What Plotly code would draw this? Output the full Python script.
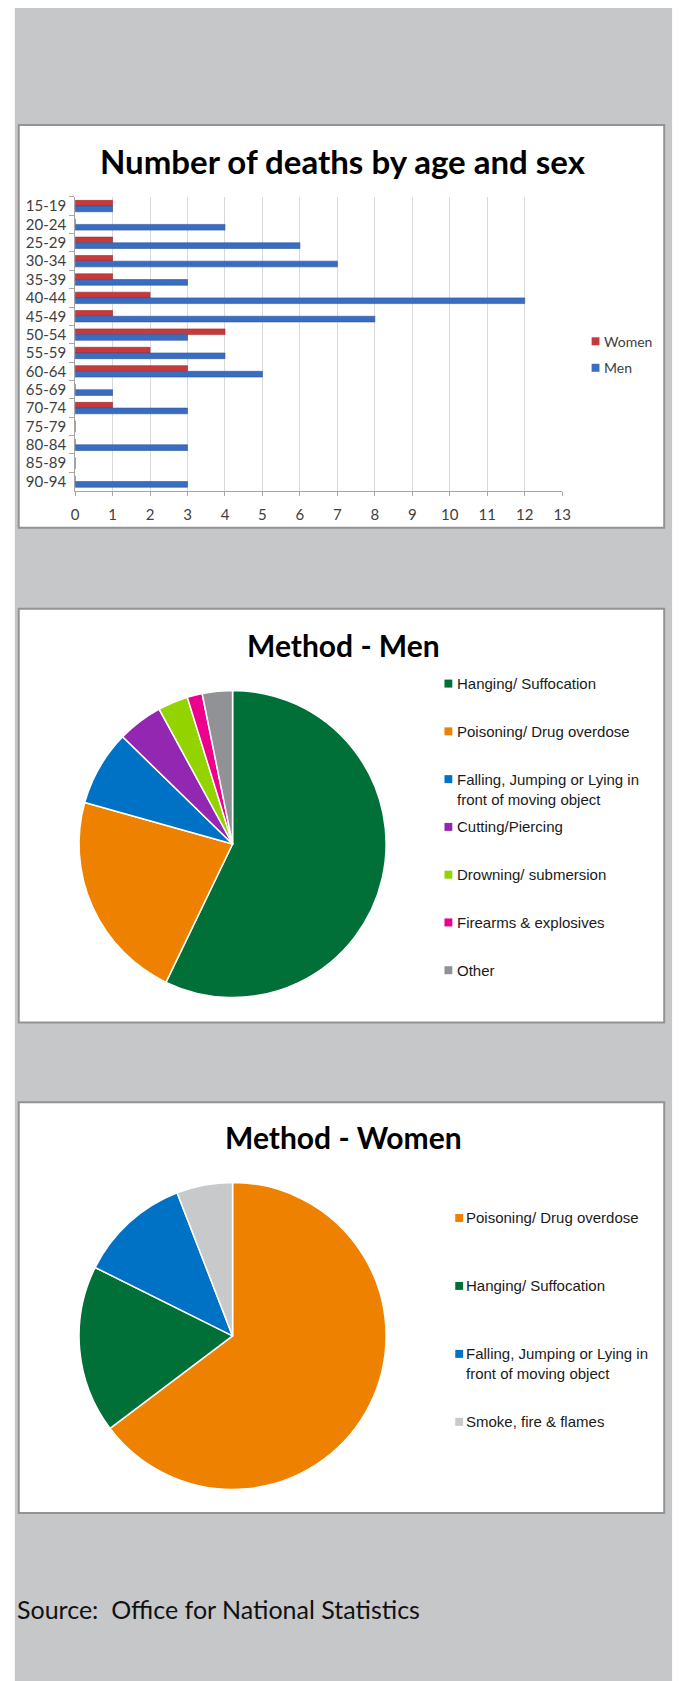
import plotly.graph_objects as go

W, H = 684, 1681

# ---------------- data ----------------
age_groups = ["15-19", "20-24", "25-29", "30-34", "35-39", "40-44", "45-49", "50-54",
              "55-59", "60-64", "65-69", "70-74", "75-79", "80-84", "85-89", "90-94"]
women_deaths = [1, 0, 1, 1, 1, 2, 1, 4, 2, 3, 0, 1, 0, 0, 0, 0]
men_deaths = [1, 4, 6, 7, 3, 12, 8, 3, 4, 5, 1, 3, 0, 3, 0, 3]
x_ticks = list(range(0, 14))

men_methods = ["Hanging/ Suffocation", "Poisoning/ Drug overdose",
               "Falling, Jumping or Lying in front of moving object",
               "Cutting/Piercing", "Drowning/ submersion",
               "Firearms & explosives", "Other"]
men_method_counts = [36, 14, 5, 3, 2, 1, 2]

women_methods = ["Poisoning/ Drug overdose", "Hanging/ Suffocation",
                 "Falling, Jumping or Lying in front of moving object",
                 "Smoke, fire & flames"]
women_method_counts = [11, 3, 2, 1]

source_text = "Source:  Office for National Statistics"

# ---------------- styles ----------------
RED = "#C8393C"
BLUE = "#3A6DC2"
method_colors = {
    "Hanging/ Suffocation": "#007038",
    "Poisoning/ Drug overdose": "#EE8200",
    "Falling, Jumping or Lying in front of moving object": "#0072C6",
    "Cutting/Piercing": "#9327B2",
    "Drowning/ submersion": "#92D300",
    "Firearms & explosives": "#EC008C",
    "Other": "#919296",
    "Smoke, fire & flames": "#C8C9CB",
}
wrap = {"Falling, Jumping or Lying in front of moving object":
        "Falling, Jumping or Lying in<br>front of moving object"}

BG_GRAY = "#C6C7C9"
BORDER = "#939393"
LEG_FONT = "Liberation Sans, Arial, sans-serif"
LEG_SIZE = 15


def px(x):
    return x / W


def py(y):
    return 1 - y / H


fig = go.Figure()

# ---------------- bar chart ----------------
fig.add_trace(go.Bar(y=age_groups, x=women_deaths, orientation="h", name="Women",
                     marker=dict(color=RED, line=dict(color="#9E2A2C", width=0.6)),
                     xaxis="x", yaxis="y", showlegend=False))
fig.add_trace(go.Bar(y=age_groups, x=men_deaths, orientation="h", name="Men",
                     marker=dict(color=BLUE, line=dict(color="#2C559A", width=0.6)),
                     xaxis="x", yaxis="y", showlegend=False))

# ---------------- pies ----------------
PIE_CX, PIE_R = 233, 156.5
men_cy, women_cy = 843.5, 1335.7

fig.add_trace(go.Pie(labels=men_methods, values=men_method_counts, sort=False,
                     direction="clockwise", rotation=0, textinfo="none",
                     marker=dict(colors=[method_colors[m] for m in men_methods],
                                 line=dict(color="#FFFFFF", width=1.5)),
                     domain=dict(x=[px(PIE_CX - PIE_R), px(PIE_CX + PIE_R)],
                                 y=[py(men_cy + PIE_R), py(men_cy - PIE_R)]),
                     showlegend=False, hoverinfo="label+value+percent"))
fig.add_trace(go.Pie(labels=women_methods, values=women_method_counts, sort=False,
                     direction="clockwise", rotation=0, textinfo="none",
                     marker=dict(colors=[method_colors[m] for m in women_methods],
                                 line=dict(color="#FFFFFF", width=1.5)),
                     domain=dict(x=[px(PIE_CX - PIE_R), px(PIE_CX + PIE_R)],
                                 y=[py(women_cy + PIE_R), py(women_cy - PIE_R)]),
                     showlegend=False, hoverinfo="label+value+percent"))

# ---------------- shapes (background, panels) ----------------
shapes = [
    dict(type="rect", xref="paper", yref="paper", x0=px(11), x1=px(681), y0=py(1681), y1=py(7),
         fillcolor=BG_GRAY, line=dict(width=0), layer="below"),
]
for (top, bottom) in [(124, 527), (608, 1022), (1102, 1513)]:
    shapes.append(dict(type="rect", xref="paper", yref="paper", x0=px(15), x1=px(673),
                       y0=py(bottom), y1=py(top), fillcolor="#FFFFFF",
                       line=dict(color=BORDER, width=2), layer="below"))

annotations = []

# titles
for text, cy, size in [("Number of deaths by age and sex", 160, 33),
                       ("Method - Men", 644, 30),
                       ("Method - Women", 1137, 30)]:
    annotations.append(dict(text=text, x=px(346), y=py(cy), xref="paper", yref="paper",
                            xanchor="center", yanchor="middle", showarrow=False,
                            font=dict(family="Lato", size=size, color="#000000",
                                      weight="bold")))

# bar legend
for i, (name, col) in enumerate([("Women", RED), ("Men", BLUE)]):
    cy = 340.5 + i * 26.5
    shapes.append(dict(type="rect", xref="paper", yref="paper", x0=px(599), x1=px(607),
                       y0=py(cy + 4), y1=py(cy - 4), fillcolor=col, line=dict(width=0)))
    annotations.append(dict(text=name, x=px(610), y=py(cy), xref="paper", yref="paper",
                            xanchor="left", yanchor="middle", showarrow=False,
                            font=dict(family="Lato", size=14, color="#404040")))


def pie_legend(labels, first_cy, step, sq_x, txt_x):
    for i, lab in enumerate(labels):
        cy = first_cy + i * step
        shapes.append(dict(type="rect", xref="paper", yref="paper", x0=px(sq_x - 4),
                           x1=px(sq_x + 4), y0=py(cy + 4), y1=py(cy - 4),
                           fillcolor=method_colors[lab], line=dict(width=0)))
        txt = wrap.get(lab, lab)
        nlines = txt.count("<br>") + 1
        annotations.append(dict(text=txt, x=px(txt_x), y=py(cy + (nlines - 1) * 10),
                                xref="paper", yref="paper", xanchor="left",
                                yanchor="middle", align="left", showarrow=False,
                                font=dict(family=LEG_FONT, size=LEG_SIZE, color="#1A1A1A")))


pie_legend(men_methods, 683, 47.8, 453, 460)
pie_legend(women_methods, 1217.7, 68, 464, 469)

# source
annotations.append(dict(text=source_text, x=px(11), y=py(1609), xref="paper", yref="paper",
                        xanchor="left", yanchor="middle", showarrow=False,
                        font=dict(family="Lato", size=25, color="#111111")))

AX_COL = "#A6A6A6"
fig.update_layout(
    width=W, height=H, autosize=False,
    margin=dict(l=0, r=0, t=0, b=0, pad=0),
    paper_bgcolor="#FFFFFF", plot_bgcolor="rgba(0,0,0,0)",
    barmode="group", bargap=0.38, bargroupgap=0,
    showlegend=False,
    xaxis=dict(domain=[px(72.5), px(569)], range=[0, 13], tickmode="array", tickvals=x_ticks,
               showgrid=True, gridcolor="#D9D9D9", gridwidth=1, zeroline=False,
               showline=True, linecolor=AX_COL, linewidth=1,
               ticks="outside", ticklen=4, tickcolor=AX_COL, ticklabelstandoff=6,
               tickfont=dict(family="Lato", size=15, color="#404040"), anchor="y",
               fixedrange=True),
    yaxis=dict(domain=[py(490), py(196)], type="category", autorange="reversed",
               tickmode="array", tickvals=age_groups, ticktext=age_groups,
               showgrid=False, zeroline=False, showline=True, linecolor=AX_COL, linewidth=1,
               ticks="outside", tickson="boundaries", ticklen=5, tickcolor=AX_COL,
               ticklabelstandoff=5,
               tickfont=dict(family="Lato", size=15, color="#404040"), anchor="x",
               fixedrange=True),
    shapes=shapes, annotations=annotations,
)

fig.write_html("out.html", include_plotlyjs=True,
               config={"displayModeBar": False},
               post_script="document.body.style.margin='0';document.body.style.overflow='hidden';")
